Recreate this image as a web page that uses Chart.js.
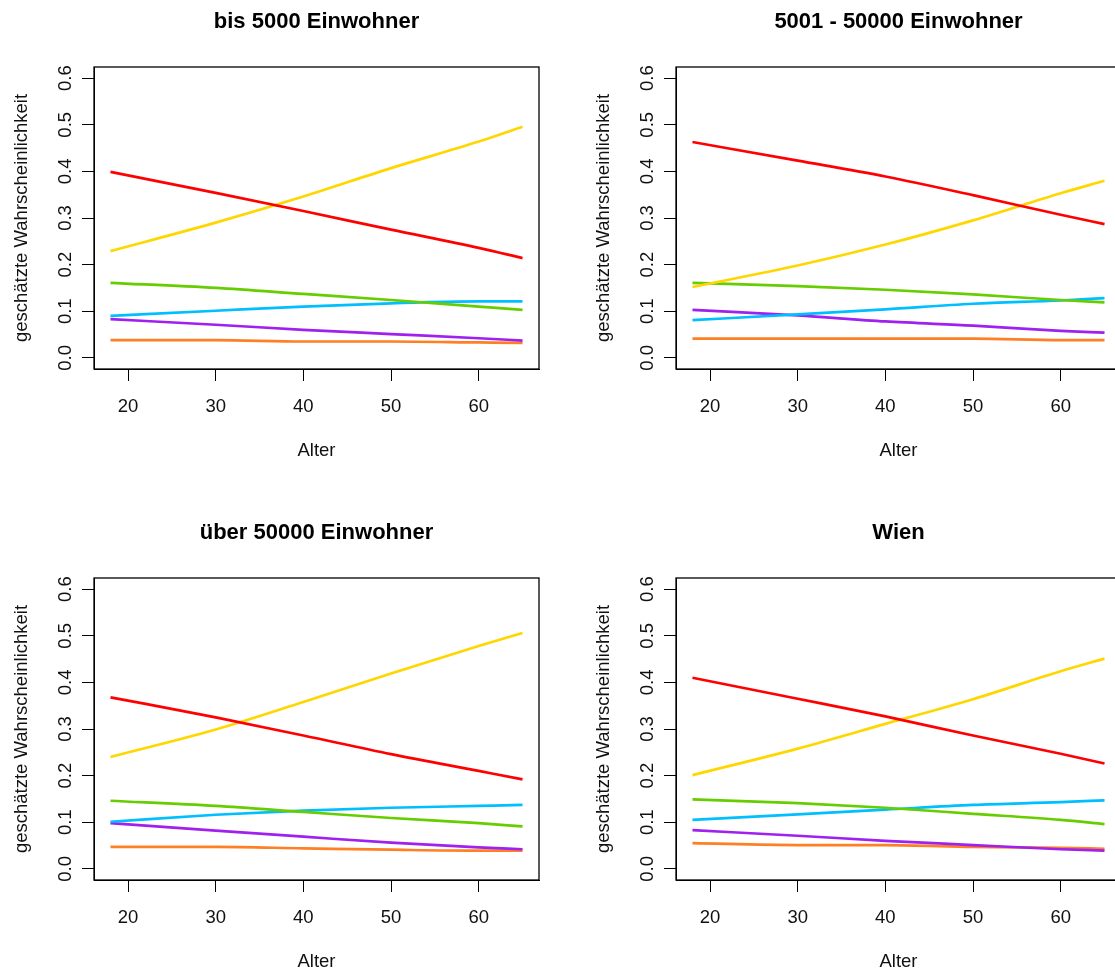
<!DOCTYPE html>
<html lang="de">
<head>
<meta charset="utf-8">
<title>geschätzte Wahrscheinlichkeit nach Alter</title>
<script src="https://cdn.jsdelivr.net/npm/chart.js@4/dist/chart.umd.min.js"></script>
<style>
  html, body { margin: 0; padding: 0; background: #fff; overflow: hidden; }
  body { width: 1115px; height: 971px; position: relative; }
  canvas { position: absolute; }
</style>
</head>
<body>
<canvas id="c1" width="583" height="511" style="left:0;top:0"></canvas>
<canvas id="c2" width="583" height="511" style="left:582px;top:0"></canvas>
<canvas id="c3" width="583" height="511" style="left:0;top:511px"></canvas>
<canvas id="c4" width="583" height="511" style="left:582px;top:511px"></canvas>
<script>
const ages = [18, 30, 40, 50, 60, 65];

const xTicks = [20, 30, 40, 50, 60];
const yTicks = [0, 0.1, 0.2, 0.3, 0.4, 0.5, 0.6];

const panelTitles = ["bis 5000 Einwohner", "5001 - 50000 Einwohner", "über 50000 Einwohner", "Wien"];
const seriesNames = ["rot", "gelb", "grün", "blau", "lila", "orange"];

// one row per series, same order as seriesNames
const bis5000 = [
  [0.399, 0.354, 0.315, 0.275, 0.236, 0.214],
  [0.229, 0.290, 0.346, 0.407, 0.464, 0.496],
  [0.161, 0.150, 0.137, 0.124, 0.110, 0.103],
  [0.090, 0.101, 0.110, 0.117, 0.121, 0.121],
  [0.083, 0.071, 0.060, 0.051, 0.042, 0.037],
  [0.038, 0.038, 0.035, 0.035, 0.033, 0.032]
];
const bis50000 = [
  [0.463, 0.423, 0.389, 0.349, 0.307, 0.287],
  [0.152, 0.198, 0.243, 0.295, 0.353, 0.380],
  [0.161, 0.154, 0.146, 0.136, 0.124, 0.119],
  [0.081, 0.093, 0.104, 0.116, 0.123, 0.128],
  [0.103, 0.091, 0.078, 0.069, 0.058, 0.054],
  [0.041, 0.041, 0.041, 0.041, 0.038, 0.038]
];
const ueber50000 = [
  [0.368, 0.325, 0.286, 0.246, 0.210, 0.192],
  [0.240, 0.299, 0.358, 0.419, 0.478, 0.506],
  [0.146, 0.135, 0.122, 0.109, 0.098, 0.091],
  [0.101, 0.116, 0.125, 0.131, 0.135, 0.137],
  [0.098, 0.082, 0.069, 0.056, 0.046, 0.042],
  [0.047, 0.047, 0.044, 0.041, 0.039, 0.039]
];
const wien = [
  [0.410, 0.365, 0.327, 0.286, 0.247, 0.226],
  [0.201, 0.258, 0.311, 0.364, 0.424, 0.451],
  [0.149, 0.141, 0.131, 0.118, 0.105, 0.096],
  [0.105, 0.117, 0.127, 0.137, 0.143, 0.147],
  [0.083, 0.071, 0.060, 0.051, 0.042, 0.039],
  [0.055, 0.051, 0.051, 0.047, 0.045, 0.043]
];

const panels = [bis5000, bis50000, ueber50000, wien];
const lineColors = ["#FF0000", "#FFD700", "#66CD00", "#00BFFF", "#A020F0", "#FF7F24"];

const FONT = "'Liberation Sans', Arial, Helvetica, sans-serif";
const INK = "#111";

// R style frame around the plot region
const boxPlugin = {
  id: "box",
  beforeDatasetsDraw(chart) {
    const a = chart.chartArea;
    const ctx = chart.ctx;
    ctx.save();
    ctx.strokeStyle = "#000";
    ctx.lineWidth = 1.3;
    ctx.strokeRect(a.left, a.top, a.right - a.left, a.bottom - a.top);
    ctx.restore();
  }
};

function makeChart(id, title, rows) {
  const ctx = document.getElementById(id).getContext("2d");
  const datasets = rows.map((row, i) => ({
    label: seriesNames[i],
    data: ages.map((a, j) => ({ x: a, y: row[j] })),
    borderColor: lineColors[i],
    borderWidth: 2.7,
    pointRadius: 0,
    cubicInterpolationMode: "monotone",
    fill: false
  }));

  new Chart(ctx, {
    type: "line",
    data: { datasets },
    plugins: [boxPlugin],
    options: {
      responsive: false,
      animation: false,
      layout: { padding: { left: 0, right: 44, top: 0, bottom: 42 } },
      plugins: {
        legend: { display: false },
        tooltip: { enabled: false },
        title: {
          display: true,
          text: title,
          fullSize: false,
          color: "#000",
          font: { family: FONT, size: 22, weight: "bold" },
          padding: { top: 9, bottom: 31.6 }
        }
      },
      scales: {
        x: {
          type: "linear",
          min: 16.12,
          max: 66.88,
          afterBuildTicks: s => { s.ticks = xTicks.map(v => ({ value: v })); },
          afterFit: s => { s.height = 100; },
          grid: { drawOnChartArea: false, drawTicks: true, tickLength: 12, color: "#000" },
          border: { display: true, color: "#000", width: 1 },
          ticks: {
            color: INK,
            font: { family: FONT, size: 18.5 },
            padding: 15,
            maxRotation: 0,
            callback: v => String(v)
          },
          title: {
            display: true,
            text: "Alter",
            color: INK,
            font: { family: FONT, size: 18.5 },
            padding: { top: 0, bottom: 7 }
          }
        },
        y: {
          type: "linear",
          min: -0.024,
          max: 0.624,
          afterBuildTicks: s => { s.ticks = yTicks.map(v => ({ value: v })); },
          afterFit: s => { s.width = 94; },
          grid: { drawOnChartArea: false, drawTicks: true, tickLength: 12, color: "#000" },
          border: { display: true, color: "#000", width: 1 },
          ticks: {
            color: INK,
            font: { family: FONT, size: 18.5 },
            padding: 3,
            minRotation: 90,
            maxRotation: 90,
            crossAlign: "center",
            callback: v => v.toFixed(1)
          },
          title: {
            display: true,
            text: "geschätzte Wahrscheinlichkeit",
            color: INK,
            font: { family: FONT, size: 18.5 },
            padding: { top: 11, bottom: 0 }
          }
        }
      }
    }
  });
}

["c1", "c2", "c3", "c4"].forEach((id, i) => makeChart(id, panelTitles[i], panels[i]));
</script>
</body>
</html>
